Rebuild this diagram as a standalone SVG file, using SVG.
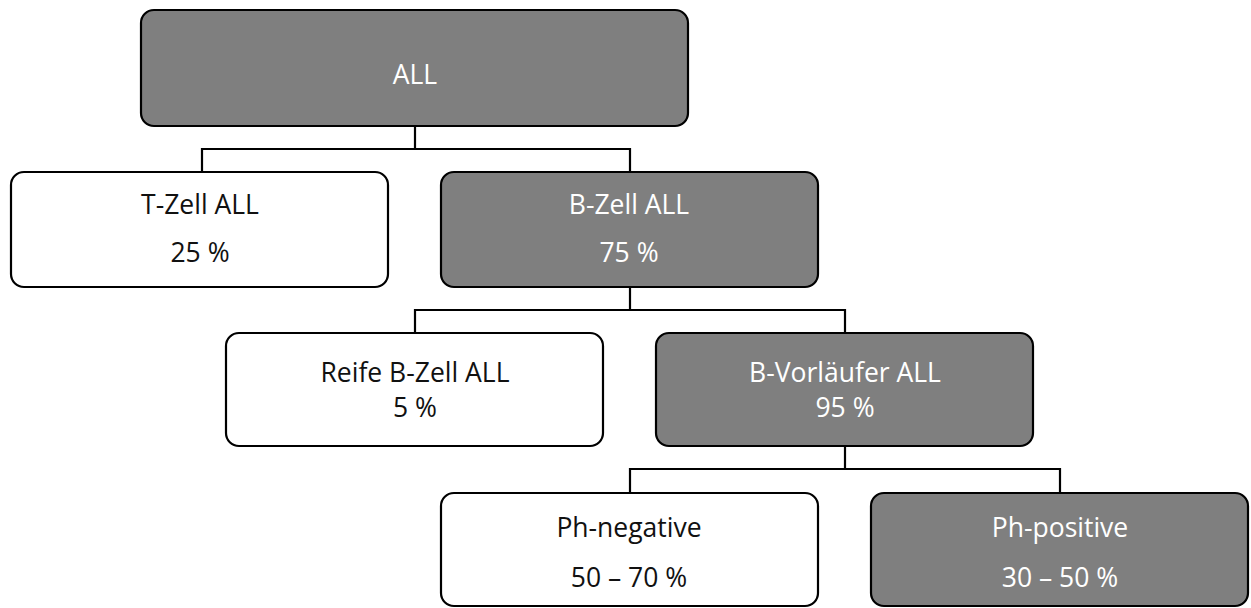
<svg xmlns="http://www.w3.org/2000/svg" width="1251" height="608" viewBox="0 0 1251 608">
<style>
.box{stroke:#000;stroke-width:2.2}
.dark{fill:#7f7f7f}
.light{fill:#fff}
text{font-family:"Open Sans","Liberation Sans",sans-serif;font-size:26.5px;text-anchor:middle}
.tl{fill:#fff}
.td{fill:#111}
.conn{fill:none;stroke:#000;stroke-width:2.2}
</style>
<rect width="1251" height="608" fill="#fff"/>
<g id="connectors">
<polyline class="conn" points="415,126 415,149 202,149 202,172"/>
<polyline class="conn" points="415,149 630,149 630,172"/>
<polyline class="conn" points="630,287 630,310 415,310 415,333"/>
<polyline class="conn" points="630,310 845,310 845,333"/>
<polyline class="conn" points="845,446 845,469 630,469 630,493"/>
<polyline class="conn" points="845,469 1060,469 1060,493"/>
</g>
<g id="n-all">
<rect class="box dark" x="141" y="10" width="547" height="116" rx="13"/>
<text class="tl" x="415" y="84">ALL</text>
</g>
<g id="n-tzell">
<rect class="box light" x="11" y="172" width="377" height="115" rx="13"/>
<text class="td" x="200" y="214">T-Zell ALL</text>
<text class="td" x="200" y="262">25 %</text>
</g>
<g id="n-bzell">
<rect class="box dark" x="441" y="172" width="377" height="115" rx="13"/>
<text class="tl" x="629" y="214">B-Zell ALL</text>
<text class="tl" x="629" y="262">75 %</text>
</g>
<g id="n-reife">
<rect class="box light" x="226" y="333" width="377" height="113" rx="13"/>
<text class="td" x="415" y="382">Reife B-Zell ALL</text>
<text class="td" x="415" y="417">5 %</text>
</g>
<g id="n-bvor">
<rect class="box dark" x="656" y="333" width="377" height="113" rx="13"/>
<text class="tl" x="845" y="382">B-Vorläufer ALL</text>
<text class="tl" x="845" y="417">95 %</text>
</g>
<g id="n-phneg">
<rect class="box light" x="441" y="493" width="377" height="113" rx="13"/>
<text class="td" x="629" y="537">Ph-negative</text>
<text class="td" x="629" y="587">50 – 70 %</text>
</g>
<g id="n-phpos">
<rect class="box dark" x="871" y="493" width="377" height="113" rx="13"/>
<text class="tl" x="1060" y="537">Ph-positive</text>
<text class="tl" x="1060" y="587">30 – 50 %</text>
</g>
</svg>
